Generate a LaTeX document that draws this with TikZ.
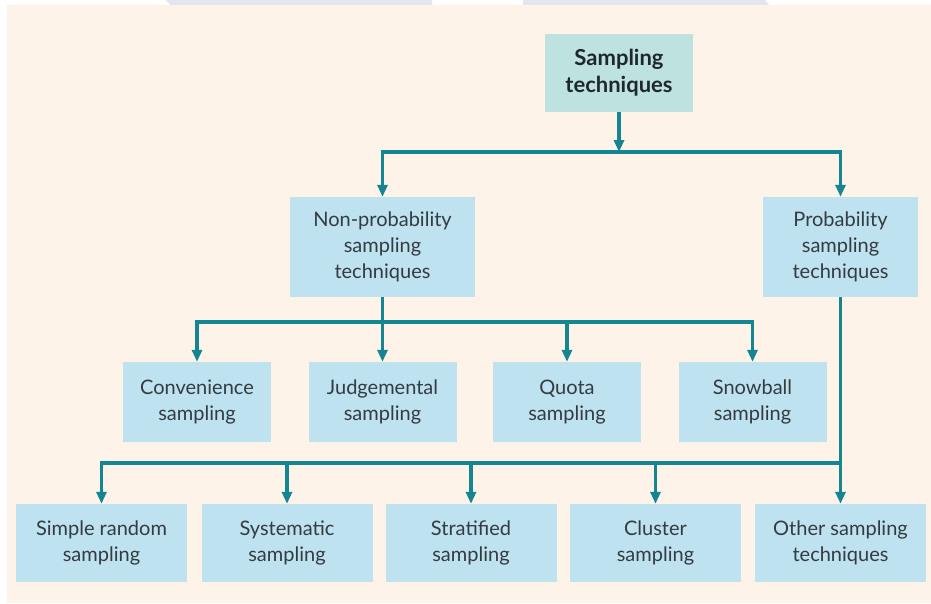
\documentclass[tikz,border=0pt]{standalone}
\usepackage{fontspec}
\setmainfont{Lato}
\usetikzlibrary{arrows.meta}
\definecolor{cream}{RGB}{253,243,233}
\definecolor{boxfill}{RGB}{190,226,240}
\definecolor{rootfill}{RGB}{190,226,224}
\definecolor{linecol}{RGB}{22,133,146}
\definecolor{txtcol}{RGB}{50,60,65}
\definecolor{topshape}{RGB}{226,231,239}
\begin{document}
\begin{tikzpicture}[x=1pt,y=-1pt,
  box/.style={rectangle, fill=boxfill, inner sep=0pt, align=center, text=txtcol,
    font=\fontsize{20}{26}\selectfont},
  rootbox/.style={box, fill=rootfill, text={rgb,255:red,30;green,40;blue,42},
    font=\fontsize{22}{27}\selectfont\bfseries},
  conn/.style={draw=linecol, line width=3.4pt},
  arr/.style={conn, -{Triangle[length=12pt,width=10pt]}, shorten >=0pt}
]
\useasboundingbox (0,0) rectangle (931,603);
\fill[white] (0,0) rectangle (931,603);
\fill[topshape] (166,0) -- (432,0) -- (432,5) -- (170,5) -- cycle;
\fill[topshape] (523,0) -- (765,0) -- (769,5) -- (523,5) -- cycle;
\fill[cream] (7,5) rectangle (931,603);

% nodes
\node[rootbox, minimum width=148pt, minimum height=78pt] (root) at (619,73) {Sampling\\techniques};

\node[box, minimum width=185pt, minimum height=100pt] (np) at (382.5,247) {Non-probability\\sampling\\techniques};
\node[box, minimum width=155pt, minimum height=100pt] (p) at (840.5,247) {Probability\\sampling\\techniques};

\node[box, minimum width=148pt, minimum height=80pt] (conv) at (197,402) {Convenience\\sampling};
\node[box, minimum width=148pt, minimum height=80pt] (judg) at (382.5,402) {Judgemental\\sampling};
\node[box, minimum width=148pt, minimum height=80pt] (quota) at (567,402) {Quota\\sampling};
\node[box, minimum width=148pt, minimum height=80pt] (snow) at (752.5,402) {Snowball\\sampling};

\node[box, minimum width=171pt, minimum height=78pt] (simple) at (101.5,543) {Simple random\\sampling};
\node[box, minimum width=171pt, minimum height=78pt] (syst) at (287,543) {Systematic\\sampling};
\node[box, minimum width=171pt, minimum height=78pt] (strat) at (471,543) {Stratified\\sampling};
\node[box, minimum width=171pt, minimum height=78pt] (clust) at (655.5,543) {Cluster\\sampling};
\node[box, minimum width=171pt, minimum height=78pt] (other) at (840.5,543) {Other sampling\\techniques};

% bus coordinates
\coordinate (b1) at (619,152);
\coordinate (b2) at (382.5,322);
\coordinate (b3) at (840.5,463);

% connectors
\draw[arr] (root.south) -- (b1);
\draw[arr] (b1) -| (np.north);
\draw[arr] (b1) -| (p.north);

\draw[arr] (np.south) -- (judg.north);
\draw[arr] (b2) -| (conv.north);
\draw[arr] (b2) -| (quota.north);
\draw[arr] (b2) -| (snow.north);

\draw[arr] (p.south) -- (other.north);
\draw[arr] (b3) -| (simple.north);
\draw[arr] (b3) -| (syst.north);
\draw[arr] (b3) -| (strat.north);
\draw[arr] (b3) -| (clust.north);
\end{tikzpicture}
\end{document}
